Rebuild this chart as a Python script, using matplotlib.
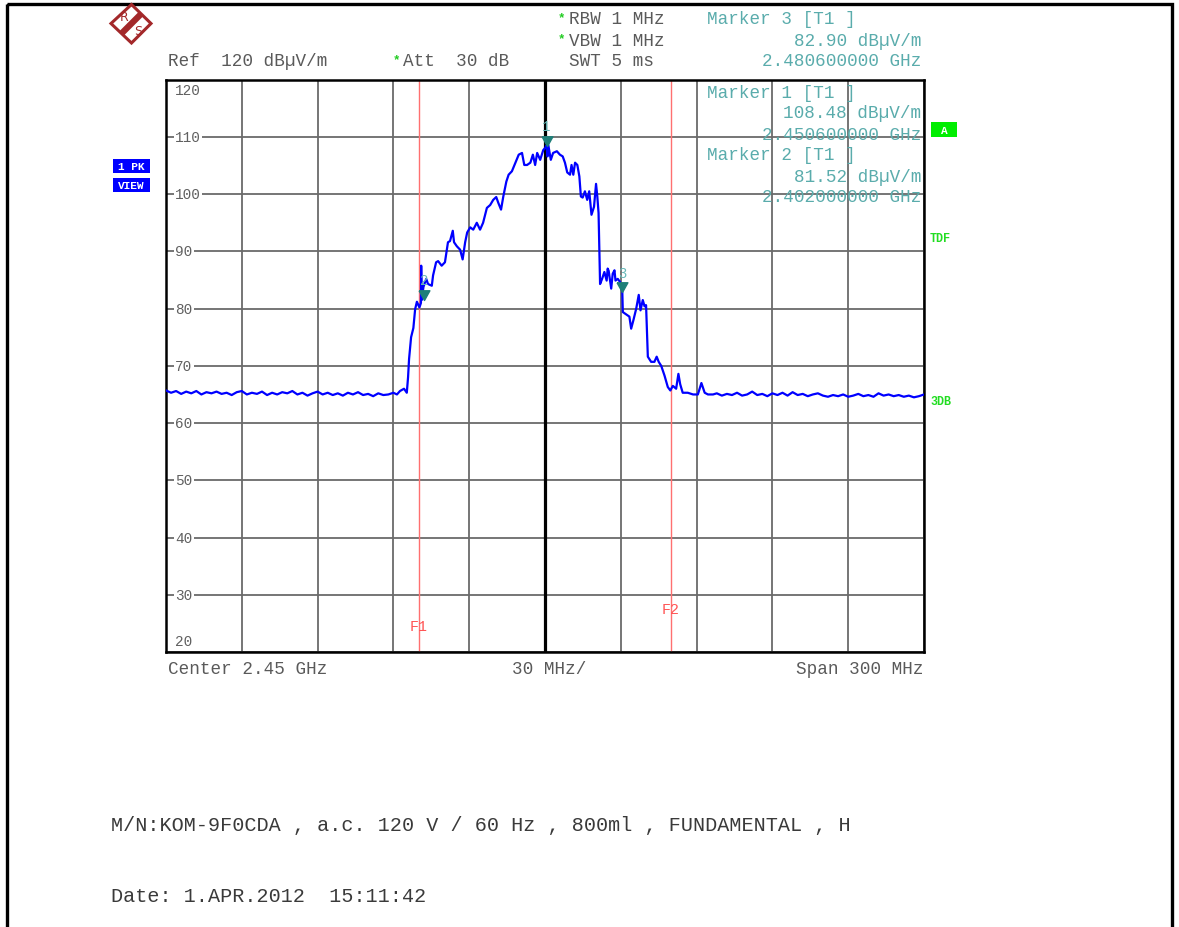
import matplotlib
matplotlib.use("Agg")
import matplotlib.pyplot as plt
from matplotlib.patches import Rectangle, Polygon

# spectrum trace, frequency in MHz, level in dBuV/m
floor_left_freq = [2300, 2302, 2304, 2306, 2308, 2310, 2312, 2314, 2316, 2318, 2320, 2322,
                   2324, 2326, 2328, 2330, 2332, 2334, 2336, 2338, 2340, 2342, 2344, 2346,
                   2348, 2350, 2352, 2354, 2356, 2358, 2360, 2362, 2364, 2366, 2368, 2370,
                   2372, 2374, 2376, 2378, 2380, 2382, 2384, 2386, 2388, 2390]
floor_left_level = [65.7, 65.3, 65.6, 65.1, 65.5, 65.2, 65.6, 65.0, 65.4, 65.2, 65.5, 65.1,
                    65.3, 64.9, 65.4, 65.6, 65.0, 65.3, 65.1, 65.5, 64.9, 65.3, 65.0, 65.4,
                    65.2, 65.6, 65.0, 65.3, 64.8, 65.2, 65.5, 65.0, 65.3, 64.9, 65.2, 64.8,
                    65.3, 65.0, 65.4, 64.9, 65.1, 64.7, 65.2, 64.9, 65.0, 65.3]

band_freq = [2391.4, 2392.6, 2394.2, 2395.3, 2395.8, 2396.2, 2397.0, 2397.9, 2398.6, 2399.3,
             2400.3, 2400.9, 2401.0, 2401.2, 2401.9, 2403.0, 2403.7, 2405.2, 2405.7, 2406.9,
             2407.7, 2409.1, 2410.4, 2411.6, 2412.4, 2413.5, 2414.0, 2415.1, 2416.4, 2417.4,
             2418.4, 2419.2, 2420.4, 2421.6, 2423.0, 2424.3, 2425.5, 2427.0, 2428.3, 2429.5,
             2430.7, 2431.5, 2432.6, 2433.5, 2434.7, 2435.6, 2436.9, 2438.3, 2439.6, 2440.9,
             2441.8, 2442.9, 2444.2, 2445.2, 2446.1, 2446.9, 2448.1, 2449.3, 2450.1, 2450.6,
             2451.0, 2451.3, 2452.3, 2453.2, 2454.7, 2455.9, 2457.0, 2457.9, 2458.8, 2459.9,
             2460.5, 2461.2, 2461.9, 2462.8, 2463.6, 2464.2, 2464.9, 2465.8, 2466.7, 2467.5,
             2468.4, 2469.4, 2470.2, 2470.7, 2471.2, 2471.8, 2472.6, 2473.5, 2474.4, 2474.8,
             2475.2, 2476.2, 2476.8, 2477.5, 2477.9, 2478.8, 2479.8, 2480.6, 2480.8, 2482.1,
             2483.4, 2484.1, 2485.0, 2486.1, 2487.1, 2487.8, 2488.7, 2489.4, 2490.0, 2490.7,
             2492.0, 2493.3, 2494.2, 2495.0, 2496.0, 2497.3, 2498.6, 2499.6, 2500.6, 2501.9,
             2502.8, 2503.5, 2504.5, 2506.5, 2508.6, 2510.5, 2511.9, 2513.2, 2514.5, 2516.5]
band_level = [65.0, 65.6, 66.0, 65.3, 68.0, 71.2, 75.0, 76.6, 79.9, 81.2,
              80.2, 81.0, 87.5, 81.5, 83.8, 85.2, 84.3, 84.0, 85.8, 88.1,
              88.3, 87.5, 88.1, 91.6, 91.8, 93.6, 91.6, 90.9, 90.3, 88.6,
              91.6, 93.3, 94.2, 93.8, 95.0, 93.8, 95.0, 97.6, 98.1, 99.0,
              99.5, 98.5, 97.3, 99.6, 102.2, 103.4, 104.0, 105.5, 106.9, 107.2,
              105.1, 105.1, 105.5, 106.9, 105.1, 107.2, 106.0, 107.7, 108.1, 108.5,
              106.6, 108.6, 106.0, 107.2, 107.5, 106.9, 106.6, 105.5, 103.8, 103.4,
              105.1, 103.4, 105.5, 105.1, 103.1, 99.6, 99.4, 100.5, 99.0, 100.5,
              96.4, 97.8, 101.8, 99.6, 96.7, 84.3, 85.2, 86.4, 84.9, 87.0,
              86.6, 83.5, 86.1, 86.7, 84.9, 85.2, 84.6, 82.9, 79.4, 79.0,
              78.6, 76.5, 78.0, 80.0, 82.4, 79.7, 81.5, 80.4, 80.6, 71.6,
              70.7, 70.7, 71.6, 70.7, 70.0, 68.3, 66.3, 65.7, 66.5, 66.0,
              68.6, 66.8, 65.3, 65.3, 65.0, 65.0, 67.0, 65.3, 65.0, 65.0]

floor_right_freq = [2518, 2520, 2522, 2524, 2526, 2528, 2530, 2532, 2534, 2536, 2538, 2540,
                    2542, 2544, 2546, 2548, 2550, 2552, 2554, 2556, 2558, 2560, 2562, 2564,
                    2566, 2568, 2570, 2572, 2574, 2576, 2578, 2580, 2582, 2584, 2586, 2588,
                    2590, 2592, 2594, 2596, 2598, 2600]
floor_right_level = [65.2, 64.8, 65.1, 64.9, 65.3, 64.8, 65.0, 65.5, 64.9, 65.1, 64.7, 65.2,
                     64.9, 65.3, 64.8, 65.4, 64.9, 65.1, 64.7, 65.0, 65.2, 64.8, 64.6, 64.9,
                     64.7, 65.0, 64.6, 64.8, 65.1, 64.7, 64.9, 64.6, 65.2, 64.8, 65.0, 64.7,
                     64.9, 64.6, 64.8, 64.5, 64.7, 65.0]

trace_freq = floor_left_freq + band_freq + floor_right_freq
trace_level = floor_left_level + band_level + floor_right_level

marker_ids = ['1', '2', '3']
marker_freq = [2450.6, 2402.0, 2480.6]
marker_level = [108.48, 81.52, 82.90]

limit_names = ['F1', 'F2']
limit_freq = [2400.0, 2500.0]

y_ticks = [120, 110, 100, 90, 80, 70, 60, 50, 40, 30, 20]

W, H = 1179, 928
MONO = 'Liberation Mono'
TEAL = '#5aacac'
GREY = '#5a5a5a'

fig = plt.figure(figsize=(W / 100, H / 100), dpi=100)
fig.patch.set_facecolor('white')

# main screen
ax = fig.add_axes([166 / W, 1 - 653 / H, 758 / W, 572.3 / H])
ax.set_xlim(2300, 2600)
ax.set_ylim(20, 120)
ax.set_xticks(range(2300, 2601, 30))
ax.set_yticks(range(20, 121, 10))
ax.tick_params(length=0, labelbottom=False, labelleft=False)
ax.grid(True, color='#6a6a6a', lw=1.3, zorder=1)
ax.set_axisbelow(True)
for s in ax.spines.values():
    s.set_color('black')
    s.set_linewidth(1.8)
ax.axvline(2450, color='black', lw=2.3, zorder=2)

for name, f in zip(limit_names, limit_freq):
    ax.axvline(f, color='#ff7070', lw=1.0, zorder=2)

ax.plot(trace_freq, trace_level, color='#0000ff', lw=1.6, zorder=3)

tri = [(-1, 1.8), (1, 1.8), (0, 0), (-1, 1.8)]
ax.plot(marker_freq, marker_level, ls='none', marker=tri, ms=14,
        color='#1e7f78', zorder=4)
for mid, f, l in zip(marker_ids, marker_freq, marker_level):
    ax.annotate(mid, (f, l), xytext=(0, 14), textcoords='offset points',
                ha='center', va='center', fontsize=10, family=MONO,
                color='#66b8b8', zorder=4)

# overlay in pixel coordinates for all the screen texts
ov = fig.add_axes([0, 0, 1, 1])
ov.set_xlim(0, W)
ov.set_ylim(H, 0)
ov.axis('off')
ov.patch.set_alpha(0)
ov.set_zorder(5)


def txt(x, y, s, size=12.7, color=GREY, ha='left', **kw):
    ov.text(x, y, s, fontsize=size, family=MONO, color=color, ha=ha,
            va='center', **kw)


# outer frame
ov.add_patch(Rectangle((7, 5), 1165, 940, fill=False, ec='black', lw=2.4))

# R&S logo
logo = '#a3282a'
ov.add_patch(Polygon([(131.5, 5.5), (151, 24.5), (131.5, 44), (111, 24.5)],
                     closed=True, fill=False, ec=logo, lw=2.2))
ov.plot([141.5, 121.5], [14.5, 34.5], color=logo, lw=4.5, solid_capstyle='butt')
ov.text(124.5, 17.5, 'R', fontsize=9, color=logo, ha='center', va='center',
        family='DejaVu Sans')
ov.text(138.5, 31.5, 'S', fontsize=9, color=logo, ha='center', va='center',
        family='DejaVu Sans')

# header
txt(396, 60, '*', size=9, color='#22cc22', ha='center', fontweight='bold')
txt(168, 62, 'Ref  120 dBµV/m')
txt(403, 62, 'Att  30 dB')
txt(561, 18, '*', size=9, color='#22cc22', ha='center', fontweight='bold')
txt(569, 20, 'RBW 1 MHz')
txt(561, 39, '*', size=9, color='#22cc22', ha='center', fontweight='bold')
txt(569, 41, 'VBW 1 MHz')
txt(569, 62, 'SWT 5 ms')

txt(707, 20, 'Marker 3 [T1 ]', color=TEAL)
txt(921, 41, '82.90 dBµV/m', color=TEAL, ha='right')
txt(921, 62, '2.480600000 GHz', color=TEAL, ha='right')

txt(707, 93, 'Marker 1 [T1 ]', color=TEAL)
txt(921, 114, '108.48 dBµV/m', color=TEAL, ha='right')
txt(921, 135, '2.450600000 GHz', color=TEAL, ha='right')
txt(707, 156, 'Marker 2 [T1 ]', color=TEAL)
txt(921, 177, '81.52 dBµV/m', color=TEAL, ha='right')
txt(921, 198, '2.402000000 GHz', color=TEAL, ha='right')

# y labels drawn inside the screen
for v in y_ticks:
    y = 80.7 + (120 - v) * 5.723
    if v == 120:
        y = 91
    elif v == 20:
        y = 642
    txt(175, y, str(v), size=10.4, color='#606060',
        bbox=dict(fc='white', ec='none', pad=1.0) if v not in (120, 20) else None)

# limit line labels
txt(419, 627, limit_names[0], size=10.8, color='#ff5555', ha='center')
txt(671, 610, limit_names[1], size=10.8, color='#ff5555', ha='center')

# side annunciators
ov.add_patch(Rectangle((113, 160), 37, 14, fc='#0000ff', ec='none'))
ov.add_patch(Rectangle((113, 179), 37, 14, fc='#0000ff', ec='none'))
txt(131.5, 167, '1 PK', size=8, color='white', ha='center', fontweight='bold')
txt(131.5, 186, 'VIEW', size=8, color='white', ha='center', fontweight='bold')
ov.add_patch(Rectangle((931, 123), 26, 15, fc='#00ee00', ec='none'))
txt(944, 130.5, 'A', size=8, color='white', ha='center', fontweight='bold')
txt(930, 239, 'TDF', size=8.5, color='#22dd22', fontweight='bold')
txt(930, 402, '3DB', size=8.5, color='#22dd22', fontweight='bold')

# bottom of screen
txt(168, 670, 'Center 2.45 GHz')
txt(549, 670, '30 MHz/', ha='center')
txt(924, 670, 'Span 300 MHz', ha='right')

# footer
txt(111, 826, 'M/N:KOM-9F0CDA , a.c. 120 V / 60 Hz , 800ml , FUNDAMENTAL , H',
    size=14.5, color='#3a3a3a')
txt(111, 897, 'Date: 1.APR.2012  15:11:42', size=14.5, color='#3a3a3a')

fig.savefig('out.png', dpi=100)
